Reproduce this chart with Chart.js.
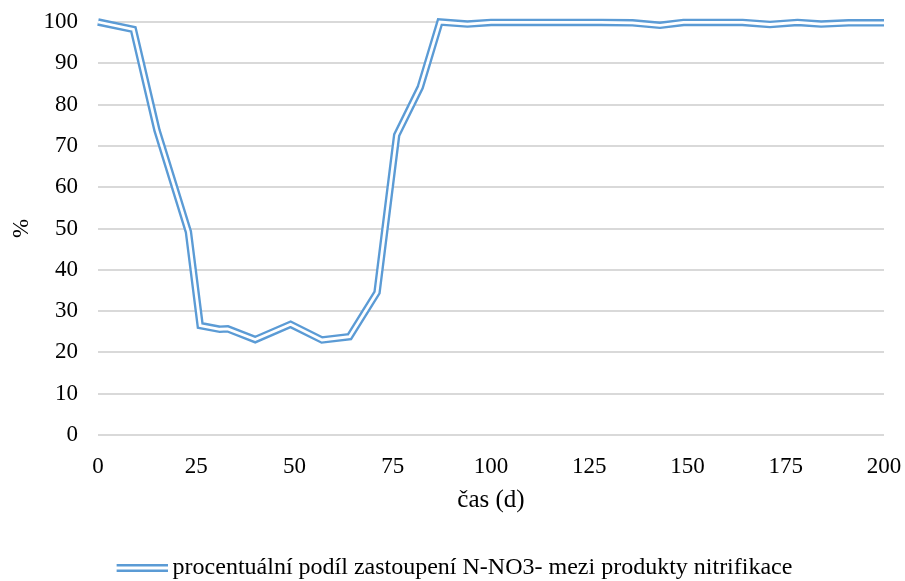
<!DOCTYPE html>
<html>
<head>
<meta charset="utf-8">
<script src="https://cdn.jsdelivr.net/npm/chart.js@4/dist/chart.umd.min.js"></script>
<style>
  html, body { margin: 0; padding: 0; background: #ffffff; overflow: hidden; }
  #wrap { width: 905px; height: 581px; overflow: hidden; }
  canvas { display: block; }
</style>
</head>
<body>
<div id="wrap"><canvas id="chart" width="905" height="590"></canvas></div>
<script>
// Sampling days and share of nitrate nitrogen among nitrification products (%)
const days = [0, 9, 15, 23, 26, 31, 33, 40, 49, 57, 64, 71, 76, 82, 87, 94, 100, 107, 114, 121, 128, 136, 143, 149, 157, 164, 171, 178, 184, 191, 200];
const nitratePct = [100, 98.2, 73.8, 49.2, 26.5, 25.6, 25.7, 23.1, 26.8, 23.0, 23.8, 34.5, 72.6, 84.2, 100, 99.5, 99.9, 99.9, 99.9, 99.9, 99.9, 99.8, 99.2, 99.9, 99.9, 99.9, 99.4, 99.9, 99.5, 99.8, 99.8];

// Axis ticks
const xTickValues = [0, 25, 50, 75, 100, 125, 150, 175, 200];
const yTickValues = [0, 10, 20, 30, 40, 50, 60, 70, 80, 90, 100];

// Texts
const seriesLabel = 'procentuální podíl zastoupení N-NO3- mezi produkty nitrifikace';
const xTitle = 'čas (d)';
const yTitle = '%';

const BLUE = '#5b9bd5';
const FONT = "'Liberation Serif', 'Times New Roman', serif";

// Legend marker: two parallel blue strokes (double line)
const legendBoxWidth = 69;
function makeDoubleLineMarker(boxWidth) {
  const c = document.createElement('canvas');
  c.width = boxWidth + 14;
  c.height = 10;
  const g = c.getContext('2d');
  g.fillStyle = BLUE;
  g.fillRect(c.width - 51, 1, 51, 2.5);
  g.fillRect(c.width - 51, 6.5, 51, 2.5);
  return c;
}

// Let the layout padding alone decide the plot area
function noScalePadding(scale) {
  scale.paddingLeft = 0;
  scale.paddingRight = 0;
  scale.paddingTop = 0;
  scale.paddingBottom = 0;
}

const points = days.map((d, i) => ({ x: d, y: nitratePct[i] }));

new Chart(document.getElementById('chart'), {
  type: 'line',
  data: {
    datasets: [
      {
        label: seriesLabel,
        data: points,
        borderColor: BLUE,
        borderWidth: 7.5,
        pointRadius: 0,
        tension: 0,
        fill: false,
        clip: false,
        order: 2,
        borderJoinStyle: 'miter'
      },
      {
        label: seriesLabel + ' (inner)',
        data: points,
        borderColor: '#ffffff',
        borderWidth: 2.8,
        pointRadius: 0,
        tension: 0,
        fill: false,
        clip: false,
        order: 1,
        borderJoinStyle: 'miter'
      }
    ]
  },
  options: {
    responsive: false,
    animation: false,
    layout: { padding: { top: 22, right: 21, left: 0, bottom: 0 } },
    plugins: {
      tooltip: { enabled: false },
      legend: {
        display: true,
        position: 'bottom',
        labels: {
          filter: (item) => item.datasetIndex === 0,
          usePointStyle: true,
          pointStyle: makeDoubleLineMarker(legendBoxWidth),
          pointStyleWidth: legendBoxWidth,
          padding: 3,
          color: '#000000',
          font: { family: FONT, size: 24 }
        }
      }
    },
    scales: {
      x: {
        type: 'linear',
        min: 0,
        max: 200,
        afterBuildTicks: (scale) => { scale.ticks = xTickValues.map(v => ({ value: v })); },
        afterFit: (scale) => { scale.height = 118; noScalePadding(scale); },
        grid: { display: false, drawTicks: false },
        border: { display: false },
        ticks: {
          padding: 18,
          maxRotation: 0,
          color: '#000000',
          font: { family: FONT, size: 23 }
        },
        title: {
          display: true,
          text: xTitle,
          color: '#000000',
          font: { family: FONT, size: 25 },
          padding: { top: 0, bottom: 38 }
        }
      },
      y: {
        type: 'linear',
        min: 0,
        max: 100,
        afterBuildTicks: (scale) => { scale.ticks = yTickValues.map(v => ({ value: v })); },
        afterFit: (scale) => { scale.width = 98; noScalePadding(scale); },
        grid: { color: '#d9d9d9', lineWidth: 2, drawTicks: false },
        border: { display: false },
        ticks: {
          padding: 20,
          color: '#000000',
          font: { family: FONT, size: 23 }
        },
        title: {
          display: true,
          text: yTitle,
          color: '#000000',
          font: { family: FONT, size: 23 },
          padding: { top: 8, bottom: 0 }
        }
      }
    }
  }
});
</script>
</body>
</html>
